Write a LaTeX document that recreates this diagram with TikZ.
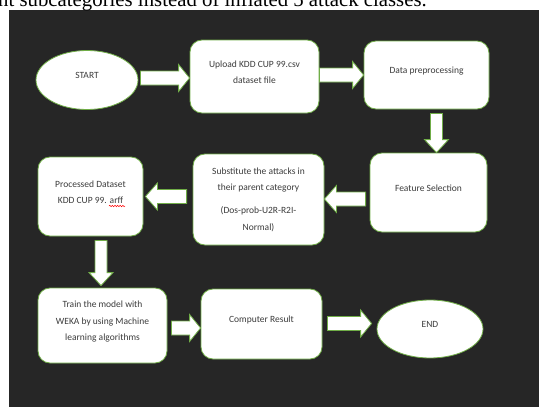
\documentclass[tikz,border=0pt]{standalone}
\usepackage{fontspec}
\usetikzlibrary{calc,shapes.geometric,decorations.pathmorphing}
\newfontfamily\boxfont{Carlito}
\newfontfamily\docfont{Liberation Serif}
\definecolor{bgdark}{RGB}{38,38,38}
\definecolor{edgegreen}{RGB}{112,173,71}
\definecolor{txtgray}{RGB}{60,60,60}
\newcommand\dn{\rule[-9pt]{0pt}{9pt}}
% block arrows between named points
\newcommand\rarr[2]{\draw[blockarr] let \p1=(#1), \p2=(#2) in
 (\x1,{\y1+7pt}) -- ({\x2-11pt},{\y1+7pt}) -- ({\x2-11pt},{\y1+13.5pt}) -- (\x2,\y1)
 -- ({\x2-11pt},{\y1-13.5pt}) -- ({\x2-11pt},{\y1-7pt}) -- (\x1,{\y1-7pt}) -- cycle;}
\newcommand\larr[2]{\draw[blockarr] let \p1=(#1), \p2=(#2) in
 (\x1,{\y1+7pt}) -- ({\x2+12pt},{\y1+7pt}) -- ({\x2+12pt},{\y1+13.5pt}) -- (\x2,\y1)
 -- ({\x2+12pt},{\y1-13.5pt}) -- ({\x2+12pt},{\y1-7pt}) -- (\x1,{\y1-7pt}) -- cycle;}
\newcommand\darr[2]{\draw[blockarr] let \p1=(#1), \p2=(#2) in
 ({\x1-6pt},\y1) -- ({\x1-6pt},{\y2+13pt}) -- ({\x1-12pt},{\y2+13pt}) -- (\x1,\y2)
 -- ({\x1+12pt},{\y2+13pt}) -- ({\x1+6pt},{\y2+13pt}) -- ({\x1+6pt},\y1) -- cycle;}
\begin{document}
\begin{tikzpicture}[x=1pt,y=-1pt,
  box/.style={draw=edgegreen, line width=0.8pt, fill=white, rounded corners=12pt,
    align=center, text=txtgray, inner sep=2pt,
    font=\boxfont\fontsize{9.5}{16.5}\selectfont},
  oval/.style={ellipse, draw=edgegreen, line width=0.8pt, fill=white, inner sep=0pt,
    text=txtgray, font=\boxfont\fontsize{9.5}{16.5}\selectfont},
  blockarr/.style={draw=edgegreen, line width=0.8pt, fill=white, line join=miter},
  spellmark/.style={red, line width=0.5pt, decorate,
    decoration={snake, amplitude=0.7pt, segment length=2.6pt}}]
\useasboundingbox (0,0) rectangle (539,407);
\fill[white] (0,0) rectangle (539,407);
\fill[bgdark] (9,10) rectangle (539,407);
\node[anchor=base west, inner sep=0pt, font=\docfont\fontsize{20.8}{22}\selectfont] (caption) at (-2,6.5)
  {nt subcategories instead of inflated 5 attack classes.};

\node[oval, minimum width=102pt, minimum height=59pt] (start) at (87,80) {START\dn};
\node[box, minimum width=129pt, minimum height=73pt] (upload) at (254.5,76.5)
  {Upload KDD CUP 99.csv\\dataset file\dn};
\node[box, minimum width=125pt, minimum height=68pt] (data) at (426.5,75)
  {Data preprocessing\dn};
\node[box, minimum width=117pt, minimum height=79pt] (feature) at (428.5,192.5)
  {Feature Selection\dn};
\node[box, minimum width=131pt, minimum height=91pt] (subst) at (258.5,199.5)
  {Substitute the attacks in\\their parent category\\[6.5pt](Dos-prob-U2R-R2I-\\Normal)};
\node[box, minimum width=105pt, minimum height=79pt] (processed) at (90.5,196.5)
  {Processed Dataset\\KDD CUP 99. arff\dn};
\node[box, minimum width=129pt, minimum height=75pt] (train) at (102.5,325.5)
  {Train the model with\\WEKA by using Machine\\learning algorithms\dn};
\node[box, minimum width=121pt, minimum height=70pt] (computer) at (261.5,324)
  {Computer Result\dn};
\node[oval, minimum width=106pt, minimum height=58pt] (end) at (430,329) {END\dn};

\draw[spellmark] ($(processed.center)+(18.5,9.5)$) -- ++(16,0);

\coordinate (a1s) at ($(start.east)+(2,-2)$);
\coordinate (a1t) at (upload.west |- a1s);
\coordinate (a2s) at ($(upload.east)+(0,-1.5)$);
\coordinate (a2t) at (data.west |- a2s);
\coordinate (a3s) at ($(data.south)+(10,4)$);
\coordinate (a3t) at (a3s |- feature.north);
\coordinate (a4s) at ($(feature.west)+(-4,6.5)$);
\coordinate (a4t) at (subst.east |- a4s);
\coordinate (a5s) at ($(subst.west)+(-6,-3)$);
\coordinate (a5t) at ($(processed.east |- a5s)+(2,0)$);
\coordinate (a6s) at ($(processed.south)+(10.5,4)$);
\coordinate (a6t) at ($(a6s |- train.north)+(0,-2)$);
\coordinate (a7s) at ($(train.east)+(4,2.5)$);
\coordinate (a7t) at (computer.west |- a7s);
\coordinate (a8s) at ($(computer.east)+(5,-0.5)$);
\coordinate (a8t) at ($(end.west |- a8s)+(-5,0)$);

\rarr{a1s}{a1t}
\rarr{a2s}{a2t}
\darr{a3s}{a3t}
\larr{a4s}{a4t}
\larr{a5s}{a5t}
\darr{a6s}{a6t}
\rarr{a7s}{a7t}
\rarr{a8s}{a8t}
\end{tikzpicture}
\end{document}
